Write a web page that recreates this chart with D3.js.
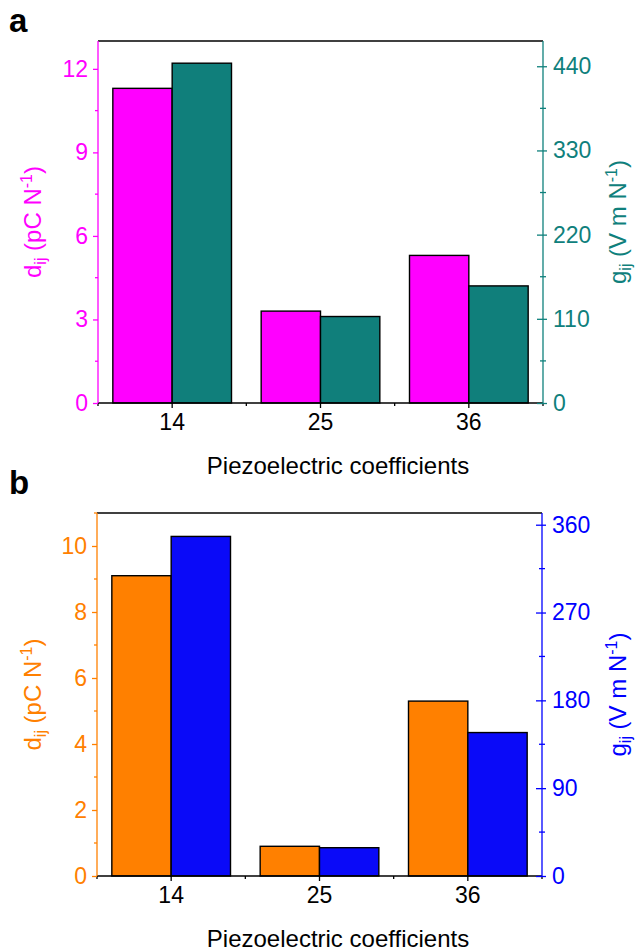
<!DOCTYPE html>
<html><head><meta charset="utf-8">
<script src="https://cdn.jsdelivr.net/npm/d3@7"></script>
<style>body{margin:0;background:#fff}svg{display:block}text{font-family:"Liberation Sans",Arial,sans-serif}</style>
</head><body>
<svg id="c" width="635" height="951"></svg>
<script>
const categories = ["14", "25", "36"];
const dA = [11.3, 3.3, 5.3];
const gA = [444, 113, 153];
const dB = [9.1, 0.9, 5.3];
const gB = [348, 29, 147];
const ticksDA = [0, 3, 6, 9, 12];
const ticksGA = [0, 110, 220, 330, 440];
const ticksDB = [0, 2, 4, 6, 8, 10];
const ticksGB = [0, 90, 180, 270, 360];
const xTitle = "Piezoelectric coefficients";

const svg = d3.select("#c");
const TF = 23;

function panel(o) {
  const g = svg.append("g");
  const x = d3.scaleBand().domain(categories).range([o.left, o.right]).padding(0);
  const yL = d3.scaleLinear().domain(o.dLeft).range([o.bottom, o.top]);
  const yR = d3.scaleLinear().domain(o.dRight).range([o.bottom, o.top]);
  const bw = x.bandwidth();
  const barW = bw * 0.4;

  g.selectAll(".b1").data(categories).enter().append("rect")
    .attr("x", d => x(d) + bw / 2 - barW)
    .attr("y", (d, i) => yL(o.left1[i]))
    .attr("width", barW)
    .attr("height", (d, i) => yL(0) - yL(o.left1[i]))
    .attr("fill", o.c1).attr("stroke", "#000").attr("stroke-width", 1.4);
  g.selectAll(".b2").data(categories).enter().append("rect")
    .attr("x", d => x(d) + bw / 2)
    .attr("y", (d, i) => yR(o.right1[i]))
    .attr("width", barW)
    .attr("height", (d, i) => yR(0) - yR(o.right1[i]))
    .attr("fill", o.c2).attr("stroke", "#000").attr("stroke-width", 1.4);

  g.append("line").attr("x1", o.left).attr("x2", o.right).attr("y1", o.top).attr("y2", o.top)
    .attr("stroke", "#000").attr("stroke-width", 1.3);

  const bx = g.append("g").attr("transform", `translate(0,${o.bottom})`)
    .call(d3.axisBottom(x).tickSize(5).tickPadding(6));
  bx.select(".domain").attr("stroke", "#000").attr("stroke-width", 1.3).attr("d", `M${o.left},0H${o.right}`);
  bx.selectAll(".tick line").attr("stroke-width", 1.3);
  bx.selectAll(".tick text").attr("font-size", TF).attr("fill", "#000")
    .attr("font-family", "'Liberation Sans',Arial,sans-serif");
  const bounds = [o.left].concat(categories.map(c => x(c) + bw));
  bx.selectAll(".mb").data(bounds).enter().append("line")
    .attr("x1", d => d).attr("x2", d => d).attr("y1", 0).attr("y2", 3)
    .attr("stroke", "#000").attr("stroke-width", 1.3);

  const lx = g.append("g").attr("transform", `translate(${o.left},0)`)
    .call(d3.axisLeft(yL).tickValues(o.tL).tickSize(5).tickPadding(5).tickSizeOuter(0));
  lx.select(".domain").attr("stroke", o.t1).attr("stroke-width", 1.3).attr("d", `M0,${o.bottom}V${o.top}`);
  lx.selectAll(".tick line").attr("stroke", o.t1).attr("stroke-width", 1.3);
  lx.selectAll(".tick text").attr("font-size", TF).attr("fill", o.t1)
    .attr("font-family", "'Liberation Sans',Arial,sans-serif");
  const stepL = o.tL[1] - o.tL[0];
  const minL = o.tL.map(v => v + stepL / 2).filter(v => v <= o.dLeft[1]);
  lx.selectAll(".ml").data(minL).enter().append("line")
    .attr("x1", -3).attr("x2", 0).attr("y1", d => yL(d)).attr("y2", d => yL(d))
    .attr("stroke", o.t1).attr("stroke-width", 1.3);

  const rx = g.append("g").attr("transform", `translate(${o.right},0)`)
    .call(d3.axisRight(yR).tickValues(o.tR).tickSize(4).tickPadding(6).tickSizeOuter(0));
  rx.select(".domain").attr("stroke", o.t2).attr("stroke-width", 1.3).attr("d", `M0,${o.bottom}V${o.top}`);
  rx.selectAll(".tick line").attr("stroke", o.t2).attr("stroke-width", 1.3).attr("x1", -6);
  rx.selectAll(".tick text").attr("font-size", TF).attr("fill", o.t2)
    .attr("font-family", "'Liberation Sans',Arial,sans-serif");
  const stepR = o.tR[1] - o.tR[0];
  const minR = o.tR.map(v => v + stepR / 2).filter(v => v <= o.dRight[1]);
  rx.selectAll(".mr").data(minR).enter().append("line")
    .attr("x1", -3).attr("x2", 3).attr("y1", d => yR(d)).attr("y2", d => yR(d))
    .attr("stroke", o.t2).attr("stroke-width", 1.3);

  const cy = (o.top + o.bottom) / 2;
  const lt = g.append("text").attr("transform", `translate(${o.ltx},${cy}) rotate(-90)`)
    .attr("text-anchor", "middle").attr("font-size", 24).attr("fill", o.t1);
  lt.append("tspan").text("d");
  lt.append("tspan").attr("font-size", 16).attr("dy", 5).text("ij");
  lt.append("tspan").attr("dy", -5).text(" (pC N");
  lt.append("tspan").attr("font-size", 16).attr("dy", -9).text("-1");
  lt.append("tspan").attr("dy", 9).text(")");
  const rt = g.append("text").attr("transform", `translate(${o.rtx},${cy}) rotate(-90)`)
    .attr("text-anchor", "middle").attr("font-size", 24).attr("fill", o.t2);
  rt.append("tspan").text("g");
  rt.append("tspan").attr("font-size", 16).attr("dy", 5).text("ij");
  rt.append("tspan").attr("dy", -5).text(" (V m N");
  rt.append("tspan").attr("font-size", 16).attr("dy", -9).text("-1");
  rt.append("tspan").attr("dy", 9).text(")");

  g.append("text").attr("x", 338).attr("y", o.xty).attr("text-anchor", "middle")
    .attr("font-size", 24).attr("fill", "#000").text(xTitle);
  g.append("text").attr("x", 9).attr("y", o.lety).attr("font-size", 33).attr("font-weight", "bold")
    .attr("fill", "#000").text(o.letter);
}

panel({left: 98, right: 543, top: 41, bottom: 403, dLeft: [0, 13], dRight: [0, 473],
  left1: dA, right1: gA, tL: ticksDA, tR: ticksGA, c1: "#FF00FF", c2: "#107F7B",
  t1: "#FF00FF", t2: "#0F807C", ltx: 41, rtx: 626, xty: 474, lety: 32, letter: "a"});
panel({left: 97, right: 542, top: 513, bottom: 876, dLeft: [0, 11], dRight: [0, 372],
  left1: dB, right1: gB, tL: ticksDB, tR: ticksGB, c1: "#FF8000", c2: "#0A0AF8",
  t1: "#FF8000", t2: "#0000FF", ltx: 41, rtx: 626, xty: 947, lety: 494, letter: "b"});
</script>
</body></html>
